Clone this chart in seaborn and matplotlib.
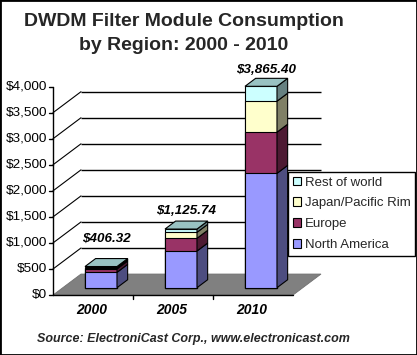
import matplotlib
matplotlib.use("Agg")
import matplotlib.pyplot as plt
from matplotlib.patches import Polygon, Patch, Rectangle
import seaborn as sns
import pandas as pd
import numpy as np

# ---------------- data ----------------
years = ["2000", "2005", "2010"]
north_america = [295.0, 704.0, 2195.0]
europe = [65.0, 244.0, 790.0]
japan_pacific = [25.0, 115.0, 595.0]
rest_of_world = [21.32, 62.74, 285.40]
total_labels = ["$406.32", "$1,125.74", "$3,865.40"]
series_names = ["North America", "Europe", "Japan/Pacific Rim", "Rest of world"]
ytick_values = [0, 500, 1000, 1500, 2000, 2500, 3000, 3500, 4000]
ytick_labels = ["$0", "$500", "$1,000", "$1,500", "$2,000", "$2,500",
                "$3,000", "$3,500", "$4,000"]
title_line1 = "DWDM Filter Module Consumption"
title_line2 = "by Region: 2000 - 2010"
source_text = "Source: ElectroniCast Corp., www.electronicast.com"

# ---------------- style ----------------
front_colors = ["#9999FF", "#993366", "#FFFFCC", "#CCFFFF"]
side_colors = ["#4D4D80", "#4D1A33", "#808066", "#668080"]
top_color = "#99C2C2"
FONT = ["Liberation Sans", "DejaVu Sans"]

sns.set_style("white")
plt.rcParams["font.family"] = FONT

W, H = 417, 355
fig = plt.figure(figsize=(W / 100, H / 100), dpi=100)
ax = fig.add_axes([0, 0, 1, 1])

series = [north_america, europe, japan_pacific, rest_of_world]
cum = np.zeros(len(years))
cums = []
for s in series:
    cum = cum + np.array(s)
    cums.append(cum.copy())

bar_w = 0.40
# stacked front faces: draw tallest cumulative first
for k in range(len(series) - 1, -1, -1):
    d = pd.DataFrame({"year": years, "val": cums[k]})
    sns.barplot(data=d, x="year", y="val", color=front_colors[k], saturation=1,
                width=bar_w, edgecolor="black", linewidth=0.8, errorbar=None,
                ax=ax, zorder=3)

# pixel -> data mapping (figure is whole axes)
PX_X0, PX_PER_X = 101.0, 80.0
PX_Y0, PX_PER_V = 287.7, 0.0521
def dx(px):
    return (px - PX_X0) / PX_PER_X
def dv(py):
    return (PX_Y0 - py) / PX_PER_V

ax.set_xlim(dx(0), dx(W))
ax.set_ylim(dv(H), dv(0))
ax.set_axis_off()

# 3D depth vectors
full_dx, full_dy = 28 / PX_PER_X, 21 / PX_PER_V       # whole floor depth
bar_off_y = 0.35 * full_dy                             # bars set back
bar_dx, bar_dy = 0.38 * full_dx, 0.38 * full_dy        # bar depth

fx0 = dx(53)
fx1 = dx(293)
fy = -bar_off_y

# floor
ax.add_patch(Polygon([(fx0, fy), (fx1, fy), (fx1 + full_dx, fy + full_dy),
                      (fx0 + full_dx, fy + full_dy)], closed=True,
                     facecolor="#808080", edgecolor="#707070", lw=0.6, zorder=0.5))

# back-wall gridlines and left-wall diagonals
for v in ytick_values[1:-1]:
    ax.plot([fx0 + full_dx, fx1 + full_dx], [fy + v + full_dy] * 2,
            color="black", lw=1.0, zorder=1, solid_capstyle="butt")
    ax.plot([fx0, fx0 + full_dx], [fy + v, fy + v + full_dy],
            color="black", lw=0.8, zorder=1)

# value axis
ax.plot([fx0, fx0], [fy, fy + 4000], color="black", lw=1.0, zorder=2)
for v, lab in zip(ytick_values, ytick_labels):
    ax.plot([fx0 - 4 / PX_PER_X, fx0], [fy + v, fy + v], color="black", lw=1.0, zorder=2)
    ax.text(dx(47), fy + v, lab, ha="right", va="center", fontsize=9.7, color="black")

# category axis
ax.plot([fx0, fx1], [fy, fy], color="black", lw=1.0, zorder=2)
for i in range(1, len(years)):
    xt = fx0 + i * (fx1 - fx0) / len(years)
    ax.plot([xt, xt], [fy, fy - 4 / PX_PER_V], color="black", lw=1.0, zorder=2)
for i, y in enumerate(years):
    xc = fx0 + (i + 0.5) * (fx1 - fx0) / len(years)
    ax.text(xc - 0.02, dv(310), y, ha="center", va="center", fontsize=10,
            fontweight="bold", fontstyle="italic", color="black")

# side and top faces
for i in range(len(years)):
    xr = i + bar_w / 2
    xl = i - bar_w / 2
    base = 0.0
    for k in range(len(series)):
        top = cums[k][i]
        ax.add_patch(Polygon([(xr, base), (xr + bar_dx, base + bar_dy),
                              (xr + bar_dx, top + bar_dy), (xr, top)], closed=True,
                             facecolor=side_colors[k], edgecolor="black", lw=0.8,
                             zorder=3.5))
        base = top
    T = cums[-1][i]
    ax.add_patch(Polygon([(xl, T), (xr, T), (xr + bar_dx, T + bar_dy),
                          (xl + bar_dx, T + bar_dy)], closed=True,
                         facecolor=top_color, edgecolor="black", lw=0.8, zorder=3.5))

# total labels
label_pad_px = [25, 15, 13]
for i, lab in enumerate(total_labels):
    T = cums[-1][i]
    ax.annotate(lab, (i + bar_dx / 2, T), xytext=(0, label_pad_px[i] * 0.72),
                textcoords="offset points", ha="center", va="baseline",
                fontsize=9.6, fontweight="bold", fontstyle="italic", color="black",
                zorder=5)

# title
fig.text(184 / W, 1 - 26 / H, title_line1, ha="center", va="baseline",
         fontsize=14, fontweight="bold")
fig.text(184 / W, 1 - 50 / H, title_line2, ha="center", va="baseline",
         fontsize=14, fontweight="bold")

# source
fig.text(37 / W, 1 - 342 / H, source_text, ha="left", va="baseline",
         fontsize=9, fontweight="bold", fontstyle="italic")

# legend
handles = [Patch(facecolor=front_colors[k], edgecolor="black", lw=0.8,
                 label=series_names[k]) for k in range(len(series) - 1, -1, -1)]
leg = fig.legend(handles=handles, loc="upper left",
                 bbox_to_anchor=(288 / W, 1 - 172 / H), fontsize=9.5,
                 frameon=True, fancybox=False, framealpha=1, edgecolor="black",
                 borderpad=0.35, labelspacing=0.66, handlelength=0.65,
                 handleheight=0.65, handletextpad=0.28, borderaxespad=0)
leg.get_frame().set_linewidth(1.0)

# outer border
fig.patches.append(Rectangle((0, 0), 1, 1, transform=fig.transFigure,
                             fill=False, edgecolor="black", lw=2.0))

fig.savefig("out.png", dpi=100)
